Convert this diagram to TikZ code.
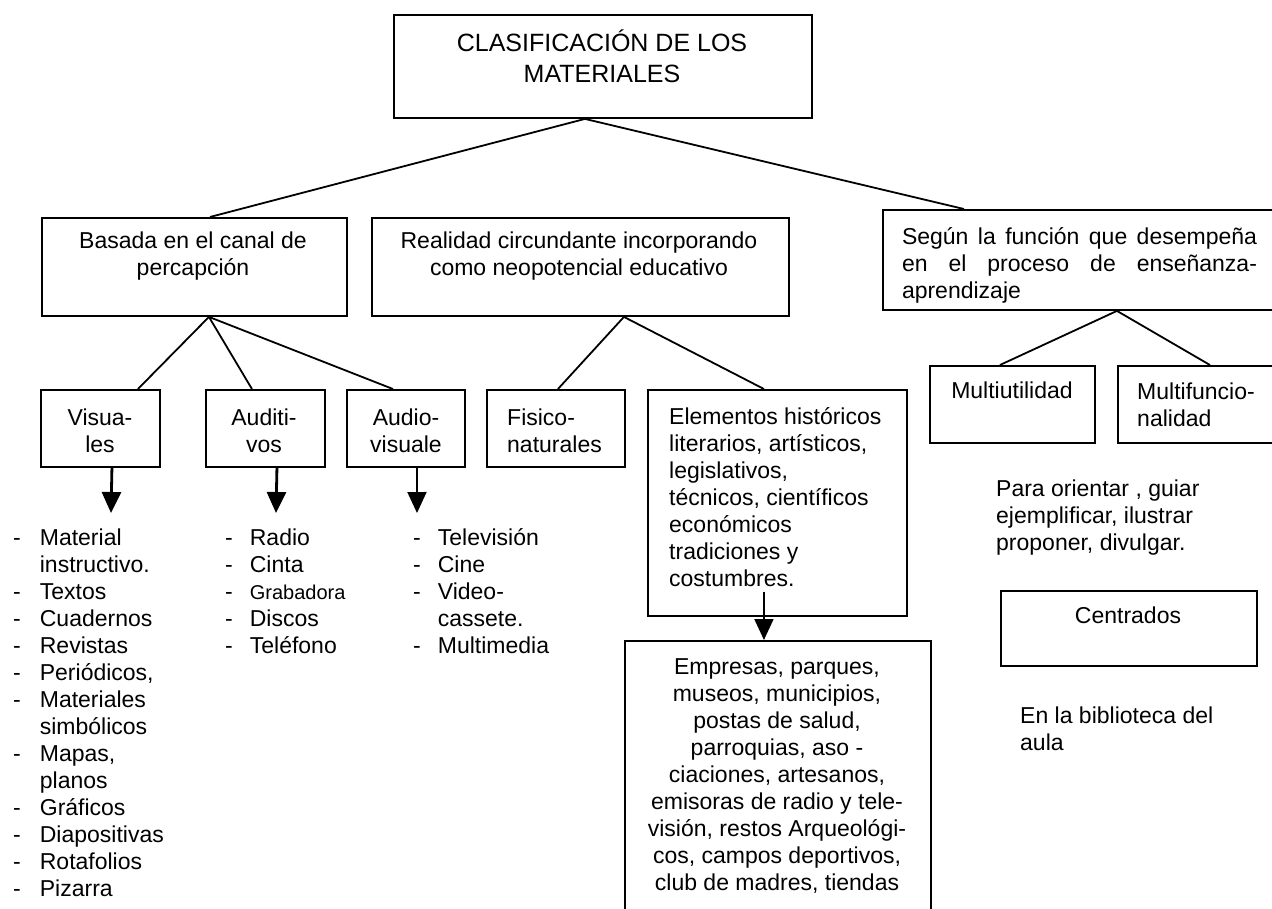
\documentclass[tikz,border=0pt]{standalone}
\usepackage{fontspec}
\setmainfont{Liberation Sans}
\usetikzlibrary{arrows.meta}
\begin{document}
\begin{tikzpicture}[x=1pt,y=-1pt,
  box/.style={draw, line width=1.9pt, inner sep=0pt, anchor=north west},
  txt/.style={font=\fontsize{23}{27}\selectfont, inner sep=0pt, align=center},
  lst/.style={font=\fontsize{23}{27}\selectfont, inner sep=0pt, anchor=base west},
  conn/.style={line width=1.8pt},
  arr/.style={line width=2.8pt, -{Triangle[width=19pt,length=21pt]}},
  arrthin/.style={line width=1.8pt, -{Triangle[width=19pt,length=21pt]}},
]
\path[use as bounding box, fill=white] (0,0) rectangle (1272,908);

% top
\node[box, minimum width=418pt, minimum height=103pt] (top) at (393,14) {};
\node[txt, font=\fontsize{25}{31}\selectfont] (topT) at (602,56) {CLASIFICACIÓN DE LOS\\MATERIALES};

% level 2
\node[box, minimum width=305pt, minimum height=98pt] (A) at (41,217) {};
\node[txt] (AT) at (193,256) {Basada en el canal de\\percapción};
\node[box, minimum width=417pt, minimum height=98pt] (B) at (371,217) {};
\node[txt] (BT) at (579,256) {Realidad circundante incorporando\\como neopotencial educativo};
\node[box, minimum width=400pt, minimum height=100pt] (C) at (882,209) {};
\node[txt, text width=355pt, align=justify] (CT) at (1079.5,265) {Según la función que desempeña\linebreak en el proceso de enseñanza-\linebreak aprendizaje};

% level 3
\node[box, minimum width=119pt, minimum height=77pt] (Vis) at (40,389) {};
\node[txt] (VisT) at (100,431) {Visua-\\les};
\node[box, minimum width=119pt, minimum height=77pt] (Aud) at (205,389) {};
\node[txt] (AudT) at (264,431) {Auditi-\\vos};
\node[box, minimum width=118pt, minimum height=77pt] (AV) at (346,389) {};
\node[txt] (AVT) at (406,431) {Audio-\\visuale};
\node[box, minimum width=138pt, minimum height=77pt] (Fis) at (486,389) {};
\node[txt, align=left, anchor=west] (FisT) at (507,431) {Fisico-\\naturales};
\node[box, minimum width=259pt, minimum height=226pt] (Elem) at (647,389) {};
\node[txt, align=left, anchor=west] (ElemT) at (669,497) {Elementos históricos\\literarios, artísticos,\\legislativos,\\técnicos, científicos\\económicos\\tradiciones y\\costumbres.};
\node[box, minimum width=306pt, minimum height=285pt] (Emp) at (624,640) {};
\node[txt] (EmpT) at (777,776) {Empresas, parques,\\museos, municipios,\\postas de salud,\\parroquias, aso -\\ciaciones, artesanos,\\emisoras de radio y tele-\\visión, restos Arqueológi-\\cos, campos deportivos,\\club de madres, tiendas};

\node[box, minimum width=165pt, minimum height=77pt] (Mu) at (929,365) {};
\node[txt] (MuT) at (1012,390) {Multiutilidad};
\node[box, minimum width=163pt, minimum height=77pt] (Mf) at (1117,365) {};
\node[txt, align=left, anchor=west] (MfT) at (1137,405) {Multifuncio-\\nalidad};

\node[txt, align=left, anchor=west] (Para) at (996,518) {Para orientar , guiar\\ejemplificar, ilustrar\\proponer, divulgar.};
\node[box, minimum width=256pt, minimum height=75pt] (Cen) at (1000,590) {};
\node[txt] (CenT) at (1128,615) {Centrados};
\node[txt, align=left, anchor=west] (Bib) at (1020,729) {En la biblioteca del\\aula};

% lists
\node[lst] (LV) at (13,545) {\begin{tabular}[t]{@{}l@{\hspace{19pt}}l@{}}
-&Material\\ &instructivo.\\ -&Textos\\ -&Cuadernos\\ -&Revistas\\ -&Periódicos,\\ -&Materiales\\ &simbólicos\\ -&Mapas,\\ &planos\\ -&Gráficos\\ -&Diapositivas\\ -&Rotafolios\\ -&Pizarra
\end{tabular}};
\node[lst] (LA) at (225,545) {\begin{tabular}[t]{@{}l@{\hspace{17pt}}l@{}}
-&Radio\\ -&Cinta\\ -&{\fontsize{20}{27}\selectfont Grabadora}\\ -&Discos\\ -&Teléfono
\end{tabular}};
\node[lst] (LAV) at (413,545) {\begin{tabular}[t]{@{}l@{\hspace{17pt}}l@{}}
-&Televisión\\ -&Cine\\ -&Video-\\ &cassete.\\ -&Multimedia
\end{tabular}};

% connectors
\draw[conn] ([xshift=-18pt]top.south) -- ([xshift=15.5pt]A.north);
\draw[conn] ([xshift=-18pt]top.south) -- ([xshift=-119pt]C.north);
\draw[conn] ([xshift=14.5pt]A.south) -- ([xshift=37.5pt]Vis.north);
\draw[conn] ([xshift=14.5pt]A.south) -- ([xshift=-13.5pt]Aud.north);
\draw[conn] ([xshift=14.5pt]A.south) -- ([xshift=-13pt]AV.north);
\draw[conn] ([xshift=43.5pt]B.south) -- ([xshift=2pt]Fis.north);
\draw[conn] ([xshift=43.5pt]B.south) -- ([xshift=-13.5pt]Elem.north);
\draw[conn] ([xshift=34pt]C.south) -- ([xshift=-12.5pt]Mu.north);
\draw[conn] ([xshift=34pt]C.south) -- ([xshift=10.5pt]Mf.north);

% arrows
\coordinate (vE) at (111,513);
\coordinate (aE) at (276,513);
\coordinate (avE) at (417,513);
\draw[arr] ([xshift=11.5pt]Vis.south) -- (vE);
\draw[arr] ([xshift=11.5pt]Aud.south) -- (aE);
\draw[arrthin] ([xshift=11pt]AV.south) -- (avE);
\draw[arrthin] ([xshift=-13.5pt,yshift=25pt]Elem.south) -- ([xshift=-14pt]Emp.north);
\end{tikzpicture}
\end{document}
